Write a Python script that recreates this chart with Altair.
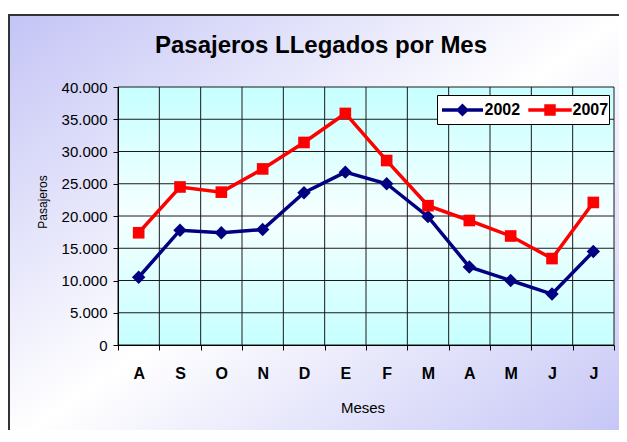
import altair as alt
import pandas as pd

months = ["Ago", "Sep", "Oct", "Nov", "Dic", "Ene", "Feb", "Mar", "Abr", "May", "Jun", "Jul"]
series_names = ["2002", "2007"]
v2002 = [10500, 17800, 17400, 17900, 23600, 26800, 25000, 19900, 12100, 10000, 7900, 14500]
v2007 = [17400, 24500, 23700, 27300, 31400, 35900, 28600, 21600, 19300, 16900, 13400, 22100]
y_ticks = [0, 5000, 10000, 15000, 20000, 25000, 30000, 35000, 40000]
series_colors = ["#000080", "#ff0000"]
series_shapes = ["diamond", "square"]

W, H = 496, 258
FONT = "Liberation Sans"

rows = []
for m, a, b in zip(months, v2002, v2007):
    rows.append({"month": m, "series": "2002", "value": a})
    rows.append({"month": m, "series": "2007", "value": b})
df = pd.DataFrame(rows)
df["serie"] = df["series"]
df["marker"] = "m" + df["series"]
marker_names = ["m" + s for s in series_names]

x_axis = alt.Axis(
    title="Meses", tickBand="extent", labelExpr="substring(datum.label, 0, 1)",
    labelAngle=0, labelFont=FONT, labelFontSize=16, labelFontWeight="bold",
    labelColor="black", labelPadding=15, tickSize=5, tickColor="black",
    domainColor="black", grid=False, titleFont=FONT, titleFontSize=15,
    titleFontWeight="normal", titleColor="black", titleX=244.5, titleY=62,
    titleBaseline="middle", zindex=1,
)
y_axis = alt.Axis(
    title="Pasajeros", values=y_ticks,
    labelExpr="replace(format(datum.value, ','), ',', '.')",
    labelFont=FONT, labelFontSize=15, labelColor="black", labelPadding=6,
    tickSize=5, tickColor="black", domainColor="black", grid=False,
    titleFont=FONT, titleFontSize=12, titleFontWeight="normal", titleColor="black",
    titleX=-76, titleY=114.5, titleBaseline="middle", titleAlign="center", zindex=1,
)
x_scale = alt.Scale(domain=months, paddingInner=0, paddingOuter=0)
y_scale = alt.Scale(domain=[0, 40000], nice=False)

p2002 = "M-2.93,-0.25L2.93,-0.25L2.93,0.25L-2.93,0.25Z M0,-0.93L0.93,0L0,0.93L-0.93,0Z"
p2007 = "M-3.1,-0.25L3.1,-0.25L3.1,0.25L-3.1,0.25Z M-0.82,-0.82L0.82,-0.82L0.82,0.82L-0.82,0.82Z"

common_leg = dict(
    title=None, orient="none", legendY=8, direction="horizontal", padding=7,
    labelFont=FONT, labelFontSize=16, labelFontWeight="bold", labelColor="black",
    symbolOffset=10.5, symbolSize=196, symbolStrokeWidth=0, symbolOpacity=1,
)
legend_a = alt.Legend(values=[series_names[0]], legendX=319, symbolType=p2002,
                      symbolFillColor=series_colors[0], labelOffset=14, **common_leg)
legend_b = alt.Legend(values=[series_names[1]], legendX=406.5, symbolType=p2007,
                      symbolFillColor=series_colors[1], labelOffset=14.5, **common_leg)

one = pd.DataFrame({"k": [0]})
bg_outer = alt.Chart(one).mark_rect(
    fill=alt.Gradient(gradient="linear", x1=0, y1=0, x2=1, y2=1, stops=[
        alt.GradientStop(color="#c4c4f6", offset=0),
        alt.GradientStop(color="#ffffff", offset=0.5),
        alt.GradientStop(color="#c4c4f6", offset=1)]),
    stroke="#333333", strokeWidth=2,
).encode(x=alt.value(-109), x2=alt.value(W + 12), y=alt.value(-72), y2=alt.value(H + 100))

bg_plot = alt.Chart(one).mark_rect(
    fill=alt.Gradient(gradient="linear", x1=0, y1=0, x2=0, y2=1, stops=[
        alt.GradientStop(color="#c6ffff", offset=0),
        alt.GradientStop(color="#f6ffff", offset=0.5),
        alt.GradientStop(color="#c6ffff", offset=1)]),
).encode(x=alt.value(0), x2=alt.value(W), y=alt.value(0), y2=alt.value(H))

hgrid = alt.Chart(pd.DataFrame({"v": y_ticks})).mark_rule(color="#1a1a1a", strokeWidth=1).encode(
    y=alt.Y("v:Q", scale=y_scale, axis=y_axis))
vgrid = alt.Chart(pd.DataFrame({"month": months})).mark_rule(color="#1a1a1a", strokeWidth=1).encode(
    x=alt.X("month:N", bandPosition=0, scale=x_scale, sort=months, axis=x_axis))
vgrid_end = alt.Chart(one).mark_rule(color="#1a1a1a", strokeWidth=1).encode(x=alt.value(W))

legend_box = alt.Chart(one).mark_rect(fill="white", stroke="black", strokeWidth=1).encode(
    x=alt.value(319.5), x2=alt.value(491.5), y=alt.value(8.5), y2=alt.value(37.5))

lines = alt.Chart(df).mark_line(strokeWidth=3.5).encode(
    x=alt.X("month:N", scale=x_scale, sort=months, axis=x_axis),
    y=alt.Y("value:Q", scale=y_scale, axis=y_axis),
    stroke=alt.Stroke("series:N", scale=alt.Scale(domain=series_names, range=series_colors), legend=legend_a),
)
points = alt.Chart(df).mark_point(filled=True, opacity=1, strokeWidth=0).encode(
    x=alt.X("month:N", scale=x_scale, sort=months, axis=x_axis),
    y=alt.Y("value:Q", scale=y_scale, axis=y_axis),
    fill=alt.Fill("serie:N", scale=alt.Scale(domain=series_names[::-1], range=series_colors[::-1]), legend=legend_b),
    shape=alt.Shape("marker:N", scale=alt.Scale(domain=marker_names, range=series_shapes), legend=None),
    size=alt.Size("marker:N", scale=alt.Scale(domain=marker_names, range=[180, 135]), legend=None),
)

chart = alt.layer(bg_outer, bg_plot, hgrid, vgrid, vgrid_end, legend_box, lines, points).properties(
    width=W, height=H,
    title=alt.TitleParams("Pasajeros LLegados por Mes", font=FONT, fontSize=24, fontWeight="bold",
                          color="black", anchor="middle", frame="group", dx=-45, dy=44, offset=0),
    autosize=alt.AutoSizeParams(type="none"),
    padding={"left": 110, "top": 79, "right": 5, "bottom": 85},
).configure_view(stroke=None).configure(background="white")

chart.save("out.html", embed_options={"renderer": "svg", "actions": False})
